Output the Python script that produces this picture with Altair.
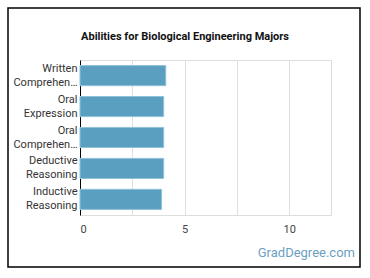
import altair as alt
import pandas as pd

abilities = ["Written\nComprehen…", "Oral\nExpression", "Oral\nComprehen…", "Deductive\nReasoning", "Inductive\nReasoning"]
scores = [4.1, 4.0, 4.0, 4.0, 3.9]
x_ticks = [0, 2.5, 5, 7.5, 10]
title_text = "Abilities for Biological Engineering Majors"
watermark_text = "GradDegree.com"

df = pd.DataFrame({"ability": abilities, "score": scores})

FONT = "Roboto"

bars = alt.Chart(df).mark_bar(
    color="#5b9fc0", stroke="#8fc2d8", strokeWidth=1
).encode(
    x=alt.X("score:Q", scale=alt.Scale(domain=[0, 12], nice=False),
            axis=alt.Axis(values=x_ticks, title=None, grid=True, gridColor="#e0e0e0",
                          domain=False, ticks=False, labelPadding=8,
                          labelExpr="datum.value % 5 == 0 ? datum.label : ''",
                          labelFont=FONT, labelFontSize=11, labelColor="#444")),
    y=alt.Y("ability:N", sort=abilities,
            scale=alt.Scale(paddingInner=0.35, paddingOuter=0.18),
            axis=alt.Axis(title=None, grid=False, ticks=False, domainColor="#000",
                          domainWidth=1, labelPadding=3, labelOffset=-7,
                          labelExpr="split(datum.label, '\\n')",
                          labelFont=FONT, labelFontSize=11, labelColor="#333",
                          labelLineHeight=14, labelLimit=200)),
)

wm_df = pd.DataFrame({"t": [watermark_text]})
watermark = alt.Chart(wm_df).mark_text(
    align="right", baseline="middle", font=FONT, fontSize=13, color="#6c9fbf"
).encode(text="t:N", x=alt.value(275), y=alt.value(193))

title_df = pd.DataFrame({"t": [title_text]})
title = alt.Chart(title_df).mark_text(
    align="center", baseline="middle", font=FONT, fontSize=11, fontWeight="bold", color="#111"
).encode(text="t:N", x=alt.value(105), y=alt.value(-23))

frame_df = pd.DataFrame({"k": [1]})
frame = alt.Chart(frame_df).mark_rect(
    fill=None, stroke="#000", strokeWidth=1.5
).encode(x=alt.value(-72), x2=alt.value(280), y=alt.value(-52), y2=alt.value(207))

chart = alt.layer(frame, bars, watermark, title).properties(
    width=251, height=155,
    padding={"left": 80, "top": 60, "right": 39, "bottom": 63},
    autosize=alt.AutoSizeParams(type="none"),
).configure_view(stroke=None).configure(background="white")

chart.save("out.html", embed_options={"renderer": "svg", "actions": False})
